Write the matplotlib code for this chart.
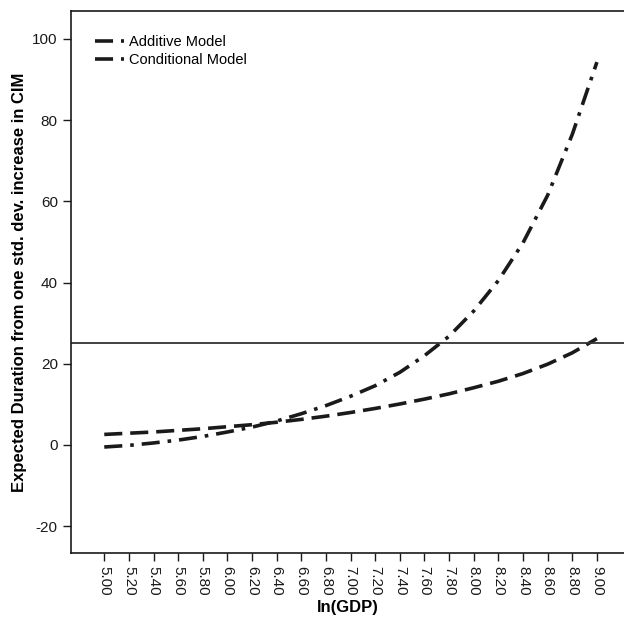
import matplotlib
matplotlib.use("Agg")
import matplotlib.pyplot as plt

plt.rcParams['font.family'] = ['Liberation Sans', 'DejaVu Sans']

# ln(GDP) values on the x axis
ln_gdp = [5.0, 5.2, 5.4, 5.6, 5.8, 6.0, 6.2, 6.4, 6.6, 6.8, 7.0,
          7.2, 7.4, 7.6, 7.8, 8.0, 8.2, 8.4, 8.6, 8.8, 9.0]
tick_labels = ["%.2f" % v for v in ln_gdp]

additive = [2.6, 2.9, 3.2, 3.6, 4.0, 4.5, 5.0, 5.6, 6.3, 7.1, 8.0,
            9.0, 10.1, 11.3, 12.6, 14.1, 15.7, 17.6, 19.9, 22.7, 26.2]
conditional = [-0.5, -0.1, 0.5, 1.2, 2.1, 3.2, 4.4, 5.9, 7.7, 9.7, 12.0,
               14.6, 17.9, 22.0, 26.8, 33.0, 40.5, 49.8, 61.5, 76.5, 94.3]
y_ticks = [-20, 0, 20, 40, 60, 80, 100]
ref_line = 25

fig = plt.figure(figsize=(6.24, 6.23), dpi=100)
ax = fig.add_axes([0.1138, 0.1124, 0.8862, 0.8700])

ax.plot(ln_gdp, additive, color='#1a1a1a', lw=2.6, dashes=(5, 2.2), label='Additive Model')
ax.plot(ln_gdp, conditional, color='#1a1a1a', lw=2.6, dashes=(5, 2.2, 1, 2.2), label='Conditional Model')
ax.axhline(ref_line, color='#333333', lw=1.3)

ax.set_xlim(4.73, 9.22)
ax.set_ylim(-26.6, 106.9)
ax.set_xticks(ln_gdp)
ax.set_xticklabels(tick_labels, rotation=270, fontsize=11)
ax.set_yticks(y_ticks)
ax.set_yticklabels([str(v) for v in y_ticks], fontsize=11)
ax.tick_params(direction='out', length=6, width=1, colors='#1a1a1a')
ax.spines['right'].set_visible(False)
for s in ['left', 'top', 'bottom']:
    ax.spines[s].set_linewidth(1.2)
    ax.spines[s].set_color('#1a1a1a')

ax.set_xlabel('ln(GDP)', fontsize=12, fontweight='bold', labelpad=3)
ax.set_ylabel('Expected Duration from one std. dev. increase in CIM', fontsize=12,
              fontweight='bold', labelpad=4)

leg = ax.legend(loc='upper left', bbox_to_anchor=(0.02, 0.98), frameon=False,
                fontsize=10.5, handlelength=2.0, handletextpad=0.3, labelspacing=0.3)

fig.savefig('out.png', dpi=100)
